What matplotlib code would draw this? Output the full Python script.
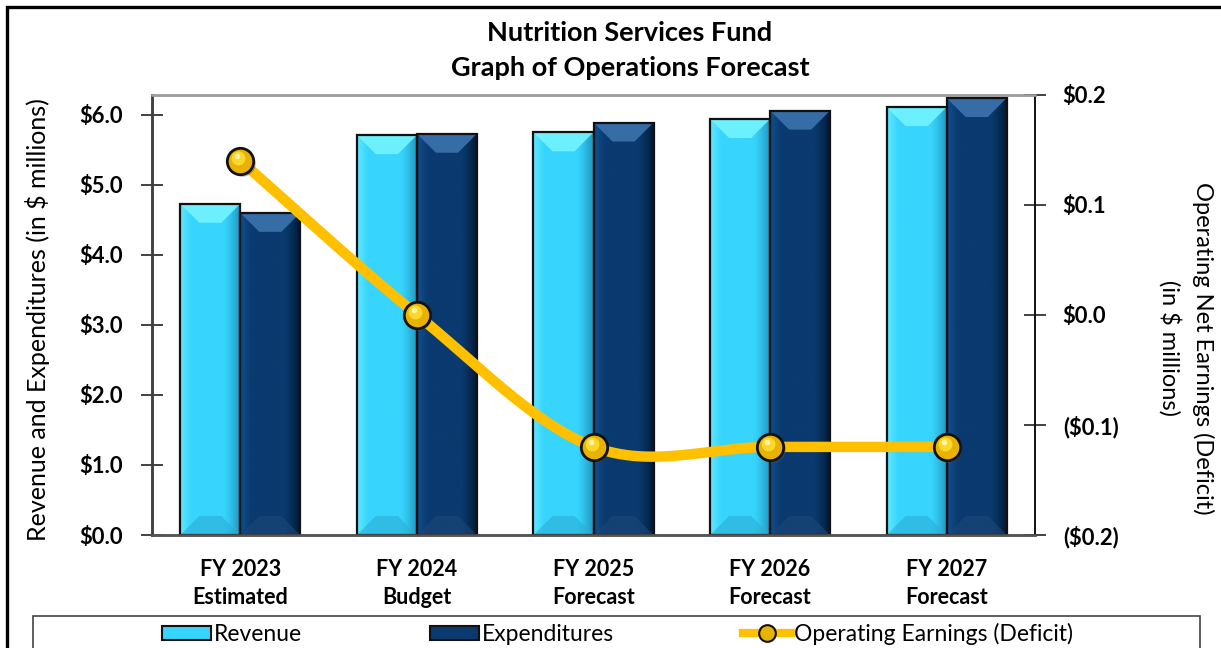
import numpy as np
import matplotlib
matplotlib.use("Agg")
import matplotlib.pyplot as plt
from matplotlib.patches import Rectangle, Polygon, Patch
from matplotlib.lines import Line2D
from matplotlib.colors import to_rgb
import matplotlib.transforms as mtransforms

plt.rcParams['font.family'] = ['Lato', 'DejaVu Sans']

# ---- data (in $ millions) ----
categories = ["FY 2023\nEstimated", "FY 2024\nBudget", "FY 2025\nForecast",
              "FY 2026\nForecast", "FY 2027\nForecast"]
revenue = [4.73, 5.71, 5.75, 5.94, 6.11]
expenditures = [4.60, 5.73, 5.89, 6.06, 6.24]
earnings = [0.14, 0.00, -0.12, -0.12, -0.12]

left_ticks = [0, 1, 2, 3, 4, 5, 6]
right_ticks = [-0.2, -0.1, 0.0, 0.1, 0.2]

W, H = 1221, 648
fig = plt.figure(figsize=(W / 100, H / 100), dpi=100)
fig.patch.set_facecolor("white")

ax_l, ax_r, ax_b, ax_t = 152, 1035, 535, 94.5
ax = fig.add_axes([ax_l / W, 1 - ax_b / H, (ax_r - ax_l) / W, (ax_b - ax_t) / H])
ax2 = ax.twinx()

x = np.arange(len(categories))
bw = 0.34
ax.set_xlim(-0.5, len(categories) - 0.5)
ax.set_ylim(0, 6.29)
ax2.set_ylim(-0.2, 0.2)

rev_style = dict(mid="#37D5FD", left="#62E6FF", right="#1F93BD",
                 top="#74F4FF", bottom="#2AAED8")
exp_style = dict(mid="#0A3A6F", left="#124E8C", right="#021632",
                 top="#3C73AE", bottom="#1C4878")

# pixel -> data scale for bevel depth
p0 = ax.transData.transform((0, 0))
p1 = ax.transData.transform((1, 1))
px_x = 1.0 / (p1[0] - p0[0])
px_y = 1.0 / (p1[1] - p0[1])
bev = 19


def side_gradient(st, n=80):
    c_l, c_m, c_r = (np.array(to_rgb(st[k])) for k in ("left", "mid", "right"))
    t = np.linspace(0, 1, n)[:, None]
    g = np.empty((n, 3))
    a = t < 0.18
    b = (t >= 0.18) & (t <= 0.72)
    c = t > 0.72
    g[a[:, 0]] = (c_l + (c_m - c_l) * (t / 0.18))[a[:, 0]]
    g[b[:, 0]] = c_m
    g[c[:, 0]] = (c_m + (c_r - c_m) * ((t - 0.72) / 0.28) ** 1.3)[c[:, 0]]
    return g[None, :, :]


def bevel_bars(xpos, heights, st):
    bars = ax.bar(xpos, heights, width=bw, color=st["mid"], edgecolor="none",
                  zorder=1)
    grad = side_gradient(st)
    for b in bars:
        x0, x1 = b.get_x(), b.get_x() + b.get_width()
        h = b.get_height()
        ax.imshow(grad, extent=[x0, x1, 0, h], aspect="auto",
                  zorder=2, interpolation="bilinear")
        bx, by = bev * px_x, bev * px_y
        ax.add_patch(Polygon([(x0, h), (x1, h), (x1 - bx, h - by), (x0 + bx, h - by)],
                             closed=True, facecolor=st["top"], edgecolor="none",
                             alpha=0.9, zorder=3))
        ax.add_patch(Polygon([(x0, 0), (x1, 0), (x1 - bx, by), (x0 + bx, by)],
                             closed=True, facecolor=st["bottom"], edgecolor="none",
                             alpha=0.6, zorder=3))
        ax.add_patch(Rectangle((x0, 0), x1 - x0, h, facecolor="none",
                               edgecolor="#111111", lw=1.6, zorder=4))
    return bars


bevel_bars(x - bw / 2, revenue, rev_style)
bevel_bars(x + bw / 2, expenditures, exp_style)
ax.set_xlim(-0.5, len(categories) - 0.5)
ax.set_ylim(0, 6.29)

# smoothed earnings line (Catmull-Rom through the points, in display space)
pts = ax2.transData.transform(np.column_stack([x, earnings]))
n = len(pts)
curve = []
tt = np.linspace(0, 1, 60)
for i in range(n - 1):
    P0 = pts[max(i - 1, 0)]
    P1 = pts[i]
    P2 = pts[i + 1]
    P3 = pts[min(i + 2, n - 1)]
    C1 = P1 + (P2 - P0) / 6.0
    C2 = P2 - (P3 - P1) / 6.0
    seg = ((1 - tt) ** 3)[:, None] * P1 + (3 * (1 - tt) ** 2 * tt)[:, None] * C1 \
        + (3 * (1 - tt) * tt ** 2)[:, None] * C2 + (tt ** 3)[:, None] * P2
    curve.append(seg if i == 0 else seg[1:])
curve = ax2.transData.inverted().transform(np.vstack(curve))
ax2.plot(curve[:, 0], curve[:, 1], color="#FFC000", lw=7.5,
         solid_capstyle="butt", zorder=5)

# gold ball markers
shadow = mtransforms.offset_copy(ax2.transData, fig=fig, x=1.5, y=-2, units="dots")
ax2.plot(x, earnings, "o", ms=19, color="#555555", alpha=0.45, mec="none",
         transform=shadow, zorder=5)
ax2.plot(x, earnings, "o", ms=19, mfc="#E8B200", mec="#111111", mew=2, zorder=6)
hl = mtransforms.offset_copy(ax2.transData, fig=fig, x=-2, y=3, units="dots")
ax2.plot(x, earnings, "o", ms=10, mfc="#FFDD33", mec="none", alpha=0.9,
         transform=hl, zorder=7)
hl2 = mtransforms.offset_copy(ax2.transData, fig=fig, x=-3, y=5, units="dots")
ax2.plot(x, earnings, "o", ms=4, mfc="#FFF6B0", mec="none", alpha=0.9,
         transform=hl2, zorder=8)

# axes styling
ax.set_xticks(x)
ax.set_xticklabels(categories, fontsize=15.5, fontweight="bold", linespacing=1.45)
ax.tick_params(axis="x", length=0, pad=17)
ax.set_yticks(left_ticks)
ax.set_yticklabels([f"${v:.1f}" for v in left_ticks], fontsize=15.8, fontweight="bold")
ax.tick_params(axis="y", direction="inout", length=16, width=1.2, pad=13,
               color="#222222")
ax2.set_yticks(right_ticks)
ax2.set_yticklabels([f"${v:.1f}" if v >= 0 else f"(${-v:.1f})" for v in right_ticks],
                    fontsize=15.8, fontweight="bold")
ax2.tick_params(axis="y", direction="inout", length=16, width=1.2, pad=12,
                color="#222222")

for a in (ax, ax2):
    a.spines["top"].set_color("#A0A0A0")
    a.spines["top"].set_linewidth(1.8)
    a.spines["left"].set_color("#404040")
    a.spines["left"].set_linewidth(1.8)
    a.spines["right"].set_color("#111111")
    a.spines["right"].set_linewidth(1.2)
    a.spines["bottom"].set_color("#555555")
    a.spines["bottom"].set_linewidth(1.8)

# axis titles
fig.text(38 / W, 1 - 320 / H, "Revenue and Expenditures (in $ millions)",
         rotation=90, ha="center", va="center", fontsize=18)
fig.text(1186 / W, 1 - 348 / H, "Operating Net Earnings (Deficit)\n(in $ millions)",
         rotation=270, ha="center", va="center", fontsize=17, linespacing=1.55,
         multialignment="center")

fig.text(630 / W, 1 - 33 / H, "Nutrition Services Fund",
         ha="center", va="center", fontsize=19.5, fontweight="bold")
fig.text(630 / W, 1 - 68 / H, "Graph of Operations Forecast",
         ha="center", va="center", fontsize=19.5, fontweight="bold")

# outer frame and legend box
fig.patches.append(Rectangle((7 / W, -0.1), 1.2, 1 - 7 / H + 0.1,
                             transform=fig.transFigure, facecolor="none",
                             edgecolor="black", lw=2.4, zorder=0))
fig.patches.append(Rectangle((33 / W, -0.1), (1200 - 33) / W, 0.1 + (648 - 616) / H,
                             transform=fig.transFigure, facecolor="none",
                             edgecolor="#444444", lw=1.2, zorder=0))

handles = [
    Patch(facecolor=rev_style["mid"], edgecolor="#111111", lw=1.5, label="Revenue"),
    Patch(facecolor=exp_style["mid"], edgecolor="#111111", lw=1.5, label="Expenditures"),
    Line2D([], [], color="#FFC000", lw=6, marker="o", ms=12, mfc="#E8B200",
           mec="#111111", mew=1.5, label="Operating Earnings (Deficit)"),
]
fig.legend(handles=handles, loc="center left", ncol=3, frameon=False,
           bbox_to_anchor=(151 / W, 1 - 634 / H), fontsize=16.5, handlelength=2.1,
           handleheight=0.6, handletextpad=0.15, columnspacing=5.6, borderpad=0)

fig.savefig("out.png", dpi=100)
